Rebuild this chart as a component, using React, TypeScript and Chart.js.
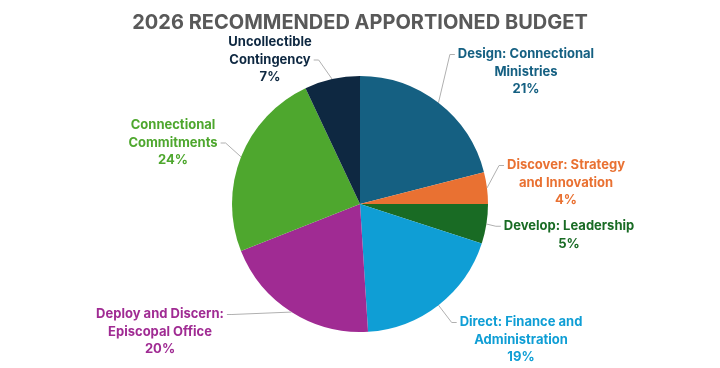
import React, { useEffect, useRef } from "react";
import { Chart, registerables } from "chart.js";

Chart.register(...registerables);

const TITLE = "2026 RECOMMENDED APPORTIONED BUDGET";
const CATEGORIES = [
  "Design: Connectional\nMinistries",
  "Discover: Strategy\nand Innovation",
  "Develop: Leadership",
  "Direct: Finance and\nAdministration",
  "Deploy and Discern:\nEpiscopal Office",
  "Connectional\nCommitments",
  "Uncollectible\nContingency",
];
const VALUES = [21, 4, 5, 19, 20, 24, 7];
const COLORS = ["#156082", "#E97132", "#196B24", "#0F9ED5", "#A02B93", "#4EA72E", "#0E2841"];

// label layout: offset of label block center from pie center (px at radius 128), attach line index & side
const LABEL_LAYOUT = [
  { dx: 166, dy: -132, line: 0, side: "left" },
  { dx: 206, dy: -21, line: 0, side: "left" },
  { dx: 209, dy: 31, line: 0, side: "left" },
  { dx: 161, dy: 136, line: 0, side: "left" },
  { dx: -200, dy: 128, line: 0, side: "right" },
  { dx: -187, dy: -61, line: 1, side: "right" },
  { dx: -90, dy: -144, line: 1, side: "right" },
];

const FONT = "Inter, 'Open Sans', sans-serif";

const labelPlugin = {
  id: "outLabels",
  afterDatasetsDraw(chart: any) {
    const ctx = chart.ctx as CanvasRenderingContext2D;
    const meta = chart.getDatasetMeta(0);
    const total = VALUES.reduce((a, b) => a + b, 0);
    ctx.save();
    // title
    ctx.font = `bold 20px ${FONT}`;
    ctx.fillStyle = "#595959";
    ctx.textAlign = "center";
    ctx.textBaseline = "middle";
    ctx.fillText(TITLE, chart.width / 2, 23);

    const LH = 17.5;
    ctx.font = `bold 13px ${FONT}`;
    meta.data.forEach((arc: any, i: number) => {
      const p = arc.getProps(["x", "y", "startAngle", "endAngle", "outerRadius"], true);
      const mid = (p.startAngle + p.endAngle) / 2;
      const ex = p.x + Math.cos(mid) * p.outerRadius;
      const ey = p.y + Math.sin(mid) * p.outerRadius;
      const lay = LABEL_LAYOUT[i];
      const s = p.outerRadius / 128;
      const cx = p.x + lay.dx * s;
      const cy = p.y + lay.dy * s;
      const pct = Math.round((VALUES[i] / total) * 100) + "%";
      const lines = [...CATEGORIES[i].split("\n"), pct];
      const n = lines.length;
      const ly = (k: number) => cy + (k - (n - 1) / 2) * LH;
      // leader line
      const w = ctx.measureText(lines[lay.line]).width;
      const ax = lay.side === "left" ? cx - w / 2 - 3 : cx + w / 2 + 3;
      const ay = ly(lay.line);
      const elbow = lay.side === "left" ? ax - 5 : ax + 5;
      ctx.strokeStyle = "#B0B0B0";
      ctx.lineWidth = 1;
      ctx.beginPath();
      ctx.moveTo(ex, ey);
      ctx.lineTo(elbow, ay);
      ctx.lineTo(ax, ay);
      ctx.stroke();
      ctx.fillStyle = COLORS[i];
      lines.forEach((t, k) => ctx.fillText(t, cx, ly(k)));
    });
    ctx.restore();
  },
};

export default function App() {
  const ref = useRef<HTMLCanvasElement>(null);
  useEffect(() => {
    document.body.style.margin = "0";
    const chart = new Chart(ref.current!, {
      type: "pie",
      data: {
        labels: CATEGORIES.map((c) => c.replace("\n", " ")),
        datasets: [{ data: VALUES, backgroundColor: COLORS, borderWidth: 0 }],
      },
      options: {
        responsive: false,
        animation: false,
        layout: { padding: { top: 76, bottom: 36, left: 232, right: 232 } },
        plugins: { legend: { display: false }, tooltip: { enabled: false }, title: { display: false } },
      },
      plugins: [labelPlugin],
    });
    return () => chart.destroy();
  }, []);
  return (
    <div style={{ width: 720, height: 368, background: "#fff" }}>
      <canvas ref={ref} width={720} height={368} style={{ display: "block" }} />
    </div>
  );
}
